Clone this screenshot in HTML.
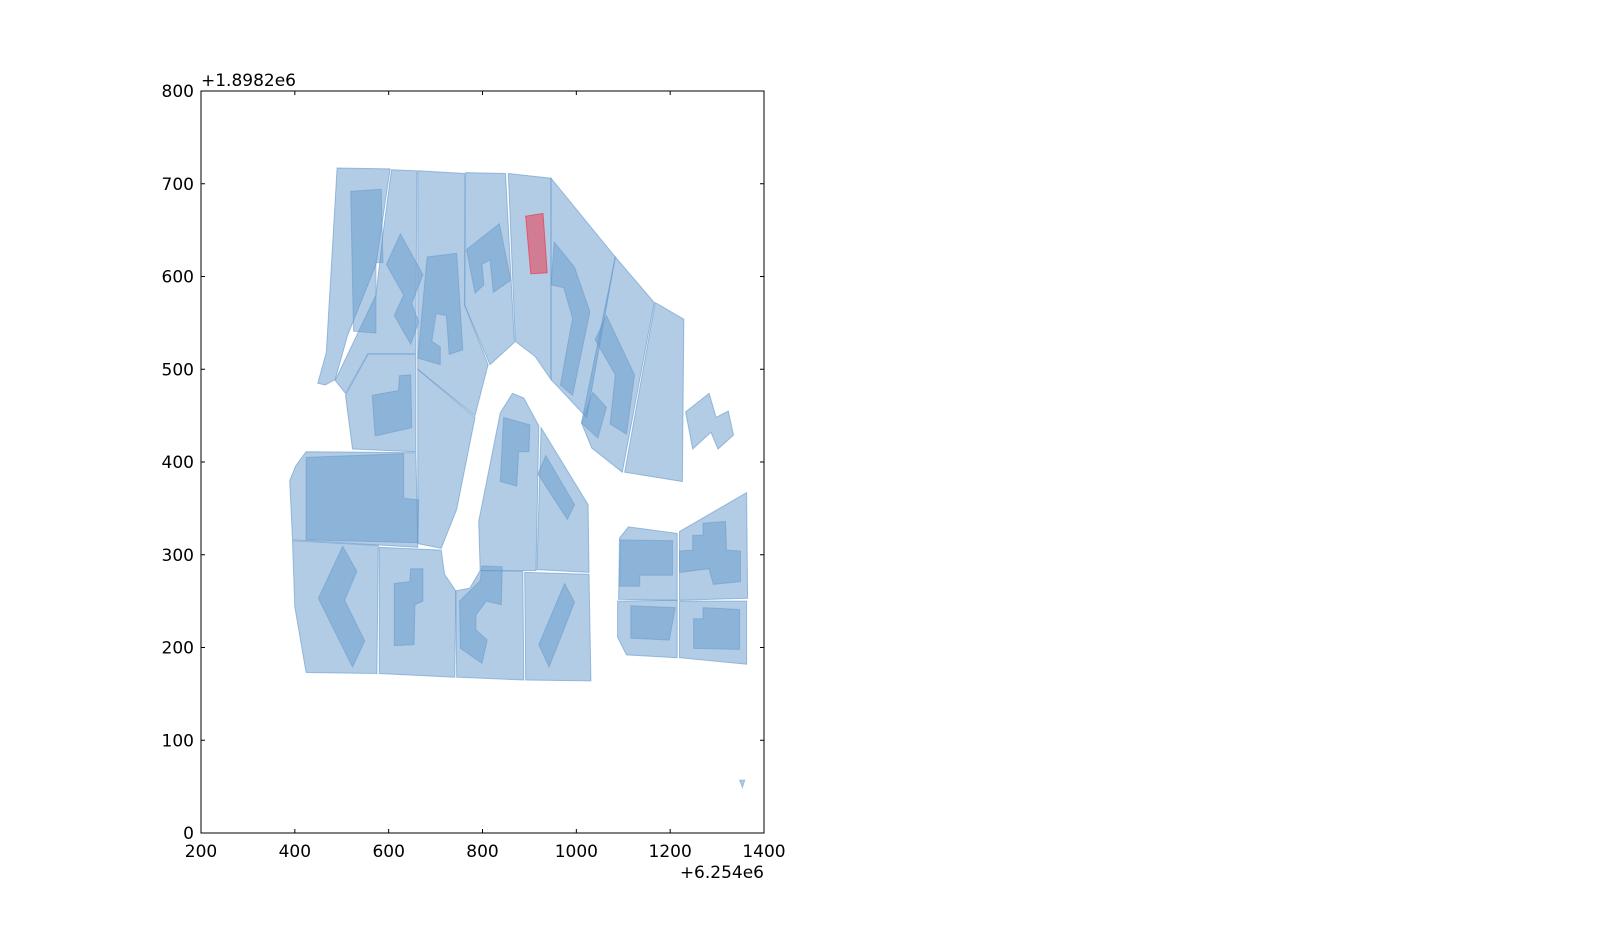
<!DOCTYPE html>
<html><head><meta charset="utf-8"><style>
html,body{margin:0;padding:0;background:#fff;}
svg{display:block;font-family:"DejaVu Sans","Liberation Sans",sans-serif;}
</style></head><body>
<svg id="chart" width="1600" height="927">
<rect x="0" y="0" width="1600" height="927" fill="#fff"/>
<g id="plot"></g>
<g id="axes"></g>
</svg>
<script>
const xTicks=[200,400,600,800,1000,1200,1400];
const yTicks=[0,100,200,300,400,500,600,700,800];
const xOffsetLabel="+6.254e6";
const yOffsetLabel="+1.8982e6";
const parcels=[
[[490,717],[603,716],[573,613],[512,536],[486,489],[465,483],[449,485],[467,518]],
[[606,715],[660,714],[658,517],[556,517],[508,474],[486,488],[573,580],[588,646]],
[[662,714],[762,711],[762,569],[812,505],[784,450],[662,500]],
[[764,712],[849,711],[868,529],[816,505],[762,569]],
[[855,711],[946,706],[946,489],[912,514],[870,530]],
[[946,706],[1083,621],[1022,448],[946,489]],
[[1083,621],[1166,572],[1098,389],[1033,415],[1011,442]],
[[1168,572],[1229,554],[1226,379],[1103,389]],
[[556,516],[658,516],[658,411],[523,414],[508,472]],
[[662,500],[784,448],[745,349],[712,307],[662,312]],
[[424,411],[658,410],[662,308],[395,316],[389,380],[402,396]],
[[395,315],[578,310],[575,172],[424,173],[400,244]],
[[580,308],[712,305],[719,279],[743,261],[741,168],[580,172]],
[[743,261],[773,264],[795,283],[886,282],[888,165],[745,168]],
[[890,281],[1027,279],[1031,164],[892,165]],
[[795,283],[792,336],[838,453],[864,474],[888,469],[920,439],[914,283]],
[[925,437],[1025,354],[1027,281],[916,284]],
[[1092,318],[1111,330],[1215,323],[1215,251],[1090,252]],
[[1220,325],[1363,367],[1365,253],[1220,251]],
[[1088,250],[1215,251],[1215,189],[1107,192],[1088,211]],
[[1220,250],[1363,250],[1363,182],[1220,189]],
[[1233,454],[1283,474],[1298,448],[1324,455],[1335,429],[1302,414],[1287,432],[1248,414]]
];
const buildings=[
[[519,692],[584,694],[588,615],[573,615],[573,539],[525,541]],
[[595,613],[625,646],[673,602],[649,571],[664,551],[647,527],[612,558],[632,580]],
[[682,621],[745,625],[758,521],[729,516],[723,558],[701,560],[692,530],[710,524],[710,505],[662,512]],
[[766,629],[836,657],[860,596],[823,583],[816,618],[799,613],[803,591],[784,582]],
[[953,637],[996,610],[1029,562],[992,472],[966,483],[992,555],[973,588],[946,591]],
[[1040,532],[1064,558],[1124,494],[1107,430],[1072,441],[1083,494]],
[[1011,442],[1035,475],[1064,459],[1046,426]],
[[565,472],[621,477],[623,493],[647,494],[649,437],[571,428]],
[[424,405],[632,409],[632,361],[664,359],[662,313],[424,316]],
[[845,448],[901,440],[899,411],[877,411],[873,374],[838,379]],
[[918,387],[935,407],[996,354],[981,338]],
[[450,253],[502,309],[532,282],[506,251],[549,207],[523,179]],
[[612,269],[645,271],[647,285],[673,285],[673,250],[656,246],[654,203],[612,202]],
[[751,250],[795,272],[799,288],[842,287],[840,246],[808,250],[786,235],[786,219],[810,208],[799,183],[753,199]],
[[920,203],[975,269],[996,249],[942,179]],
[[1094,316],[1205,315],[1205,278],[1135,278],[1135,266],[1092,266]],
[[1220,304],[1248,305],[1248,321],[1270,321],[1270,334],[1318,336],[1320,305],[1350,304],[1350,271],[1292,268],[1283,285],[1220,281]],
[[1116,245],[1211,243],[1198,208],[1116,210]],
[[1250,231],[1270,231],[1270,243],[1348,241],[1348,198],[1250,199]],
[[1348,57],[1359,57],[1354,49]]
];
const selected=[[892,665],[929,668],[938,604],[903,603]];

const L=201,R=764,T=91,B=833,X0=200,X1=1400,Y0=0,Y1=800;
const sx=v=>L+(v-X0)/(X1-X0)*(R-L);
const sy=v=>B-(v-Y0)/(Y1-Y0)*(B-T);
const NS="http://www.w3.org/2000/svg";
const plot=document.getElementById('plot');
const axes=document.getElementById('axes');
function poly(pts,fill,stroke,name){
  const p=document.createElementNS(NS,'polygon');
  p.setAttribute('points',pts.map(q=>sx(q[0]).toFixed(1)+','+sy(q[1]).toFixed(1)).join(' '));
  p.setAttribute('fill',fill);p.setAttribute('stroke',stroke);p.setAttribute('stroke-width','1');
  
  
  plot.appendChild(p);
}
parcels.forEach((pp,i)=>poly(pp,'rgba(102,153,204,0.5)','rgba(102,153,204,0.6)','parcel-'+(i+1)));
buildings.forEach((pp,i)=>poly(pp,'rgba(102,153,204,0.5)','rgba(102,153,204,0.5)','building-'+(i+1)));
poly(selected,'rgba(230,70,90,0.6)','rgba(230,70,90,0.8)','selected-building');

function el(tag,attrs,txt){const e=document.createElementNS(NS,tag);for(const k in attrs)e.setAttribute(k,attrs[k]);if(txt!==undefined)e.textContent=txt;axes.appendChild(e);return e;}
const frame=el('rect',{x:L,y:T,width:R-L,height:B-T,fill:'none',stroke:'#000','stroke-width':1});


xTicks.forEach(v=>{
  const x=sx(v);
  el('line',{x1:x,y1:B,x2:x,y2:B-4,stroke:'#000'});
  el('line',{x1:x,y1:T,x2:x,y2:T+4,stroke:'#000'});
  const t=el('text',{x:x,y:B+24,'text-anchor':'middle','font-size':17},String(v));
  
  
});
yTicks.forEach(v=>{
  const y=sy(v);
  el('line',{x1:L,y1:y,x2:L+4,y2:y,stroke:'#000'});
  el('line',{x1:R,y1:y,x2:R-4,y2:y,stroke:'#000'});
  const t=el('text',{x:L-7,y:y+6,'text-anchor':'end','font-size':17},String(v));
  
  
});
const xo=el('text',{x:R,y:B+45,'text-anchor':'end','font-size':17},xOffsetLabel);


const yo=el('text',{x:L,y:T-5,'text-anchor':'start','font-size':17},yOffsetLabel);


</script>
</body></html>
